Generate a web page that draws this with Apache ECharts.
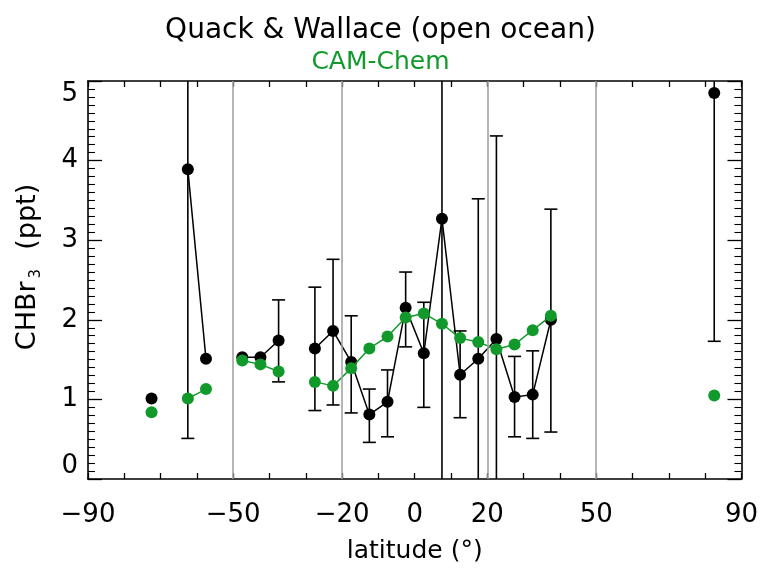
<!DOCTYPE html>
<html>
<head>
<meta charset="utf-8">
<script src="https://cdn.jsdelivr.net/npm/echarts@6/dist/echarts.min.js"></script>
<style>
html,body{margin:0;padding:0;background:#ffffff;}
#chart{width:761px;height:569px;}
</style>
</head>
<body>
<div id="chart"></div>
<script>
// ---- data ----
const latitudes   = [-72.5, -62.5, -57.5, -47.5, -42.5, -37.5, -27.5, -22.5, -17.5, -12.5, -7.5, -2.5, 2.5, 7.5, 12.5, 17.5, 22.5, 27.5, 32.5, 37.5, 82.5];
const quackWallace = [1.01, 3.89, 1.51, 1.53, 1.53, 1.74, 1.64, 1.86, 1.47, 0.81, 0.97, 2.15, 1.58, 3.27, 1.31, 1.51, 1.76, 1.03, 1.06, 2.00, 4.85];
const qwErrLow    = [null, 0.51, null, null, null, 1.22, 0.86, 0.93, 0.83, 0.46, 0.53, 1.66, 0.90, -0.40, 0.77, -0.50, -0.80, 0.53, 0.51, 0.59, 1.73];
const qwErrHigh   = [null, 7.30, null, null, null, 2.25, 2.41, 2.76, 2.05, 1.13, 1.37, 2.60, 2.22, 6.90, 1.86, 3.52, 4.31, 1.54, 1.61, 3.39, 8.00];
const camChem     = [0.84, 1.01, 1.13, 1.49, 1.44, 1.35, 1.22, 1.17, 1.39, 1.64, 1.79, 2.03, 2.08, 1.95, 1.77, 1.72, 1.63, 1.69, 1.87, 2.05, 1.05];
const xTickLabels = [-90, -50, -20, 0, 20, 50, 90];
const gridLatitudes = [-50, -20, 20, 50];
const yTickLabels = [0, 1, 2, 3, 4, 5];

const GREEN = '#119a2b';
const FONT = 'DejaVu Sans';

// break the line where a 5-degree bin is missing
function withGaps(values) {
  const out = [];
  for (let i = 0; i < latitudes.length; i++) {
    if (i > 0 && latitudes[i] - latitudes[i - 1] > 5.01) {
      out.push([(latitudes[i] + latitudes[i - 1]) / 2, '-']);
    }
    out.push([latitudes[i], values[i]]);
  }
  return out;
}

const errData = [];
for (let i = 0; i < latitudes.length; i++) {
  if (qwErrLow[i] !== null) errData.push([latitudes[i], qwErrLow[i], qwErrHigh[i]]);
}

function renderErr(params, api) {
  const x = api.value(0), lo = api.value(1), hi = api.value(2);
  const cs = params.coordSys;
  const pLo = api.coord([x, lo]);
  const pHi = api.coord([x, hi]);
  const top = cs.y, bot = cs.y + cs.height;
  const yHi = Math.max(pHi[1], top);
  const yLo = Math.min(pLo[1], bot);
  const st = { stroke: '#000', lineWidth: 1.6 };
  const hw = 6.5;
  const children = [{ type: 'line', shape: { x1: pLo[0], y1: yLo, x2: pLo[0], y2: yHi }, style: st }];
  if (pHi[1] >= top) children.push({ type: 'line', shape: { x1: pHi[0] - hw, y1: pHi[1], x2: pHi[0] + hw, y2: pHi[1] }, style: st });
  if (pLo[1] <= bot) children.push({ type: 'line', shape: { x1: pLo[0] - hw, y1: pLo[1], x2: pLo[0] + hw, y2: pLo[1] }, style: st });
  return { type: 'group', children: children };
}

function fmtX(v) {
  if (xTickLabels.indexOf(v) < 0) return '';
  return v < 0 ? '\u2212' + Math.abs(v) : String(v);
}
function fmtY(v) {
  return yTickLabels.indexOf(v) < 0 ? '' : String(v);
}

const axisLineStyle = { show: true, onZero: false, lineStyle: { color: '#000', width: 1.6 } };

const xBase = {
  type: 'value', min: -90, max: 90, interval: 10,
  axisLine: axisLineStyle,
  axisTick: { show: true, inside: true, length: 6, lineStyle: { color: '#000', width: 1.3 } },
  splitLine: { show: false }
};
const yBase = {
  type: 'value', min: 0, max: 5, interval: 1,
  axisLine: axisLineStyle,
  axisTick: { show: true, inside: true, length: 14, lineStyle: { color: '#000', width: 1.3 } },
  minorTick: { show: true, splitNumber: 10, length: 7, lineStyle: { color: '#000', width: 1.1 } },
  splitLine: { show: false },
  minorSplitLine: { show: false }
};

const chart = echarts.init(document.getElementById('chart'), null, { renderer: 'canvas' });
chart.setOption({
  animation: false,
  backgroundColor: '#ffffff',
  title: [
    { text: 'Quack & Wallace (open ocean)', left: 'center', top: 12,
      textStyle: { color: '#000', fontSize: 28, fontWeight: 'normal', fontFamily: FONT } },
    { text: 'CAM-Chem', left: 'center', top: 45,
      textStyle: { color: GREEN, fontSize: 25, fontWeight: 'normal', fontFamily: FONT } }
  ],
  grid: { left: 88, right: 18, top: 81, bottom: 86, containLabel: false },
  xAxis: [
    Object.assign({}, xBase, {
      position: 'bottom',
      axisLabel: { show: true, formatter: fmtX, color: '#000', fontSize: 26, fontFamily: FONT, margin: 23 },
      name: 'latitude (\u00b0)', nameLocation: 'middle', nameGap: 60,
      nameTextStyle: { color: '#000', fontSize: 25, fontFamily: FONT }
    }),
    Object.assign({}, xBase, { position: 'top', axisLabel: { show: false } })
  ],
  yAxis: [
    Object.assign({}, yBase, {
      position: 'left',
      axisLabel: { show: true, formatter: fmtY, color: '#000', fontSize: 26, fontFamily: FONT, margin: 10,
        verticalAlignMinLabel: 'bottom', verticalAlignMaxLabel: 'top' },
      name: '{a|CHBr}{s|3}{a|  (ppt)}', nameLocation: 'middle', nameRotate: 90, nameGap: 44,
      nameTextStyle: {
        color: '#000', fontFamily: FONT, fontSize: 27, padding: [0, 0, 0, 26],
        rich: {
          a: { fontSize: 27, fontFamily: FONT, color: '#000', verticalAlign: 'bottom', padding: [0, 0, 3, 0] },
          s: { fontSize: 15, fontFamily: FONT, color: '#000', verticalAlign: 'bottom', padding: [0, 2, 0, 3] }
        }
      }
    }),
    Object.assign({}, yBase, { position: 'right', axisLabel: { show: false } })
  ],
  series: [
    {
      type: 'line', name: 'grid', data: [], z: 1, silent: true,
      markLine: {
        silent: true, symbol: ['none', 'none'], label: { show: false }, animation: false,
        lineStyle: { color: '#a3a3a3', width: 1.6, type: 'solid' },
        data: gridLatitudes.map(function (v) { return { xAxis: v }; })
      }
    },
    {
      type: 'custom', name: 'errors', data: errData, renderItem: renderErr, z: 2,
      encode: { x: 0, y: [1, 2] }, silent: true
    },
    {
      type: 'line', name: 'Quack & Wallace (open ocean)', data: withGaps(quackWallace), z: 3,
      connectNulls: false, symbol: 'circle', symbolSize: 12, showSymbol: true,
      lineStyle: { color: '#000', width: 1.5 }, itemStyle: { color: '#000' }
    },
    {
      type: 'line', name: 'CAM-Chem', data: withGaps(camChem), z: 4,
      connectNulls: false, symbol: 'circle', symbolSize: 12, showSymbol: true,
      lineStyle: { color: GREEN, width: 1.5 }, itemStyle: { color: GREEN }
    }
  ]
});
</script>
</body>
</html>
